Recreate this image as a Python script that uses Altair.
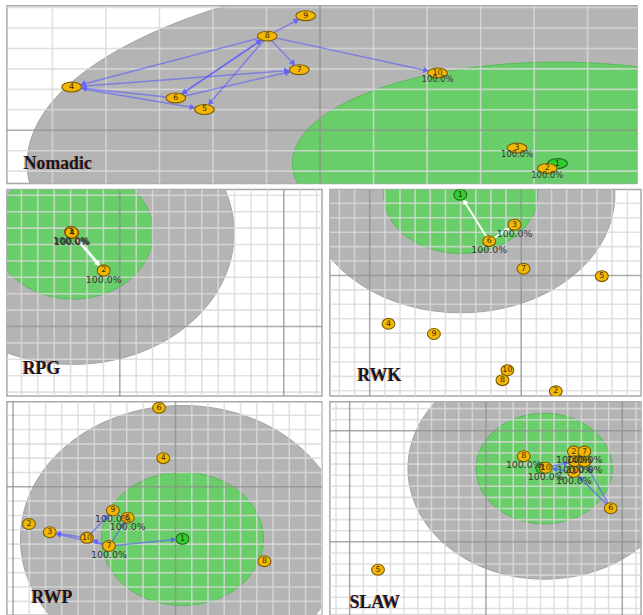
import math

import altair as alt
import numpy as np
import pandas as pd

# ---------------------------------------------------------------------------
# Node positions (page pixels) of the five mobility models
# ---------------------------------------------------------------------------
NOMADIC_ID = [1, 2, 3, 4, 5, 6, 7, 8, 9, 10]
NOMADIC_X = [562.5, 552.0, 521.5, 70.5, 205.0, 176.0, 301.0, 268.6, 307.5, 441.0]
NOMADIC_Y = [165.7, 170.7, 150.0, 88.3, 111.0, 99.3, 70.7, 36.7, 16.0, 74.0]
NOMADIC_DONE = [10, 3, 2]
NOMADIC_FROM = [8, 8, 8, 8, 8, 8, 6, 4, 6, 6, 4]
NOMADIC_TO = [9, 4, 6, 5, 7, 10, 8, 7, 7, 4, 5]

RPG_ID = [3, 4, 1, 2]
RPG_X = [69.8, 71.2, 70.5, 103.0]
RPG_Y = [231.0, 232.0, 231.5, 270.0]
RPG_DONE = [3, 4, 1, 2]
RPG_FROM = [1]
RPG_TO = [2]

RWK_ID = [1, 2, 3, 4, 5, 6, 7, 9, 10, 8]
RWK_X = [460.0, 556.7, 515.0, 387.3, 603.3, 489.3, 524.0, 433.3, 507.7, 502.7]
RWK_Y = [193.3, 392.3, 223.7, 324.0, 275.7, 240.3, 268.3, 334.3, 371.0, 381.0]
RWK_DONE = [3, 6]
RWK_FROM = [6, 6]
RWK_TO = [1, 3]

RWP_ID = [6, 4, 2, 3, 10, 7, 9, 5, 1, 8]
RWP_X = [159.0, 163.3, 27.3, 48.3, 86.0, 108.3, 112.3, 127.3, 182.7, 265.7]
RWP_Y = [405.0, 456.0, 522.7, 531.0, 536.7, 545.0, 509.0, 516.3, 537.7, 560.3]
RWP_DONE = [9, 5, 7]
RWP_FROM = [10, 7, 7, 10, 7, 7]
RWP_TO = [3, 3, 1, 9, 5, 10]

SLAW_ID = [1, 10, 8, 2, 7, 4, 9, 3, 6, 5]
SLAW_X = [543.0, 546.5, 524.3, 575.0, 585.7, 576.0, 585.7, 575.0, 612.3, 376.7]
SLAW_Y = [466.0, 465.7, 454.0, 449.3, 449.3, 459.0, 459.3, 470.0, 506.7, 569.0]
SLAW_DONE = [8, 10, 2, 7, 4, 9, 3]
SLAW_FROM = [6, 6, 10, 3]
SLAW_TO = [3, 9, 4, 10]

# Coverage zones around the source node: inner (green) and outer (grey)
# semi-axes in pixels, x then y.
INNER_RX = {"Nomadic": 268.5, "RPG": 81.0, "RWK": 78.0, "RWP": 82.0, "SLAW": 69.0}
INNER_RY = {"Nomadic": 102.7, "RPG": 67.0, "RWK": 59.5, "RWP": 67.5, "SLAW": 56.0}
OUTER_RX = {"Nomadic": 537.0, "RPG": 163.0, "RWK": 156.0, "RWP": 164.0, "SLAW": 138.0}
OUTER_RY = {"Nomadic": 205.0, "RPG": 133.0, "RWK": 119.5, "RWP": 135.0, "SLAW": 112.0}
ZONE_CX = {"Nomadic": 562.5, "RPG": 72.0, "RWK": 460.5, "RWP": 182.7, "SLAW": 545.0}
ZONE_CY = {"Nomadic": 165.7, "RPG": 232.0, "RWK": 193.3, "RWP": 537.7, "SLAW": 466.5}

# ---------------------------------------------------------------------------
# Layout: panel frames (left, right, top, bottom) and background grids
# ---------------------------------------------------------------------------
FRAMES = {
    "Nomadic": (5, 643, 6, 186),
    "RPG": (5, 324, 188, 397),
    "RWK": (328, 643, 188, 397),
    "RWP": (5, 324, 399, 615),
    "SLAW": (328, 643, 399, 615),
}
# (major line x, cell width, major line y, cell height)
GRIDS = {
    "Nomadic": (322.0, 54.2, 132.0, 20.7),
    "RPG": (119.3, 16.6, 326.7, 16.6),
    "RWK": (368.3, 15.34, 275.0, 14.6),
    "RWP": (175.7, 16.45, 485.0, 14.5),
    "SLAW": (486.0, 13.8, 428.3, 11.24),
}
TITLE_POS = {
    "Nomadic": (17, 165),
    "RPG": (16, 187),
    "RWK": (28, 194),
    "RWP": (25, 204),
    "SLAW": (20, 209),
}

GREY = "#b4b4b4"
GREEN = "#69cd69"
NODE_FILL = "#f2b705"
NODE_EDGE = "#7a5c08"
SRC_FILL = "#2fcf2f"
SRC_EDGE = "#1d6b1d"
BLUE = "#5a5aff"


def ellipse_path(ratio):
    """Unit ellipse (x in [-1, 1], y in [-ratio, ratio]) built from Beziers."""
    k = 0.5523
    r = ratio
    return (
        f"M-1,0C-1,{-k * r:.4f},{-k:.4f},{-r:.4f},0,{-r:.4f}"
        f"C{k:.4f},{-r:.4f},1,{-k * r:.4f},1,0"
        f"C1,{k * r:.4f},{k:.4f},{r:.4f},0,{r:.4f}"
        f"C{-k:.4f},{r:.4f},-1,{k * r:.4f},-1,0Z"
    )


def grid_lines(lo, hi, major, cell):
    k = np.arange(math.floor((lo - major) / cell) - 1, math.ceil((hi - major) / cell) + 2)
    pos = major + k * cell
    keep = (pos > lo) & (pos < hi)
    return pd.DataFrame({"p": pos[keep], "major": (k[keep] % 10 == 0)})


def make_panel(name, ids, xs, ys, done, src, dst, source_id, node_w, node_ratio,
               edge_color, edge_opacity, edge_width, head_size, label_dy,
               label_size, id_size):
    x0, x1, y0, y1 = FRAMES[name]
    width, height = x1 - x0, y1 - y0
    sx = alt.Scale(domain=[x0, x1], nice=False, zero=False)
    sy = alt.Scale(domain=[y0, y1], nice=False, zero=False, reverse=True)

    def X(f):
        return alt.X(f, type="quantitative", scale=sx, axis=None)

    def Y(f):
        return alt.Y(f, type="quantitative", scale=sy, axis=None)

    nodes = pd.DataFrame({"id": ids, "x": xs, "y": ys})
    pos = {i: (x, y) for i, x, y in zip(ids, xs, ys)}

    # coverage zones
    zone = pd.DataFrame({"cx": [ZONE_CX[name]], "cy": [ZONE_CY[name]]})
    outer = alt.Chart(zone).mark_point(
        shape=ellipse_path(OUTER_RY[name] / OUTER_RX[name]),
        size=(2 * OUTER_RX[name]) ** 2, filled=True, color=GREY, opacity=1,
        stroke="#a2a2a2", strokeWidth=1, clip=True,
    ).encode(x=X("cx"), y=Y("cy"))
    inner = alt.Chart(zone).mark_point(
        shape=ellipse_path(INNER_RY[name] / INNER_RX[name]),
        size=(2 * INNER_RX[name]) ** 2, filled=True, color=GREEN, opacity=1,
        stroke="#5cb85c", strokeWidth=1, clip=True,
    ).encode(x=X("cx"), y=Y("cy"))

    # background grid, drawn over the zones
    mx, cw, my, ch = GRIDS[name]
    gv = grid_lines(x0, x1, mx, cw)
    gh = grid_lines(y0, y1, my, ch)
    grid = [
        alt.Chart(gv[~gv.major]).mark_rule(color="#dadada", strokeWidth=1.6, opacity=0.8)
        .encode(x=X("p")),
        alt.Chart(gh[~gh.major]).mark_rule(color="#dadada", strokeWidth=1.6, opacity=0.8)
        .encode(y=Y("p")),
        alt.Chart(gv[gv.major]).mark_rule(color="#8f8f8f", strokeWidth=1.6, opacity=0.75)
        .encode(x=X("p")),
        alt.Chart(gh[gh.major]).mark_rule(color="#8f8f8f", strokeWidth=1.6, opacity=0.75)
        .encode(y=Y("p")),
    ]

    # message transfers: line + arrow head stopping at the target's rim
    a = node_w / 2.0
    b = a * node_ratio
    rows = []
    for s, t in zip(src, dst):
        (ax, ay), (bx, by) = pos[s], pos[t]
        dx, dy = bx - ax, by - ay
        ln = math.hypot(dx, dy)
        ux, uy = dx / ln, dy / ln
        rim = 1.0 / math.sqrt((ux / a) ** 2 + (uy / b) ** 2)
        hx, hy = bx - ux * (rim + 2.5), by - uy * (rim + 2.5)
        ang = math.degrees(math.atan2(ux, -uy)) % 360
        rows.append({"sx": ax, "sy": ay, "hx": hx, "hy": hy, "ang": ang})
    edges = pd.DataFrame(rows)
    edge_lines = alt.Chart(edges).mark_rule(
        color=edge_color, strokeWidth=edge_width, opacity=edge_opacity, clip=True
    ).encode(x=X("sx"), y=Y("sy"), x2=alt.X2("hx"), y2=alt.Y2("hy"))
    edge_heads = alt.Chart(edges).mark_point(
        shape="triangle-up", filled=True, size=head_size, color=edge_color,
        opacity=min(1.0, edge_opacity + 0.2), clip=True,
    ).encode(x=X("hx"), y=Y("hy"), angle=alt.Angle("ang:Q", scale=None))

    # nodes
    nodes["src"] = nodes["id"] == source_id
    node_marks = alt.Chart(nodes).mark_point(
        shape=ellipse_path(node_ratio), size=node_w ** 2, filled=True,
        strokeWidth=1.1, opacity=1, clip=True,
    ).encode(
        x=X("x"), y=Y("y"),
        fill=alt.condition("datum.src", alt.value(SRC_FILL), alt.value(NODE_FILL)),
        stroke=alt.condition("datum.src", alt.value(SRC_EDGE), alt.value(NODE_EDGE)),
    )
    node_ids = alt.Chart(nodes).mark_text(
        font="DejaVu Sans", fontSize=id_size, color="#3a2a00", baseline="middle",
        align="center", clip=True,
    ).encode(x=X("x"), y=Y("y"), text=alt.Text("id:N"))

    # delivery ratio labels under the nodes that received the message
    lab = nodes[nodes["id"].isin(done)].copy()
    lab["ly"] = lab["y"] + label_dy
    lab["txt"] = "100.0%"
    labels = alt.Chart(lab).mark_text(
        font="DejaVu Sans", fontSize=label_size, color="#353535", baseline="middle",
        align="center", clip=True,
    ).encode(x=X("x"), y=Y("ly"), text="txt:N")

    # model name
    tx, ty = TITLE_POS[name]
    tdf = pd.DataFrame({"t": [name]})
    shade = alt.Chart(tdf).mark_text(
        font="Liberation Serif", fontWeight="bold", fontSize=18, color="#c8701c",
        opacity=0.75, align="left", baseline="alphabetic",
    ).encode(x=alt.value(tx - 1), y=alt.value(ty), text="t:N")
    title = alt.Chart(tdf).mark_text(
        font="Liberation Serif", fontWeight="bold", fontSize=18, color="#14142c",
        align="left", baseline="alphabetic",
    ).encode(x=alt.value(tx), y=alt.value(ty), text="t:N")

    return alt.layer(
        outer, inner, *grid, edge_lines, edge_heads, node_marks, node_ids,
        labels, shade, title,
    ).properties(width=width, height=height)


nomadic = make_panel(
    "Nomadic", NOMADIC_ID, NOMADIC_X, NOMADIC_Y, NOMADIC_DONE, NOMADIC_FROM, NOMADIC_TO,
    1, 20, 0.5, BLUE, 0.6, 1.5, 45, 6.5, 8.5, 8)
rpg = make_panel(
    "RPG", RPG_ID, RPG_X, RPG_Y, RPG_DONE, RPG_FROM, RPG_TO,
    None, 13, 0.88, "#ffffff", 0.95, 3, 40, 9.5, 9.5, 8)
rwk = make_panel(
    "RWK", RWK_ID, RWK_X, RWK_Y, RWK_DONE, RWK_FROM, RWK_TO,
    1, 13, 0.85, "#ffffff", 0.95, 2, 35, 9, 9.5, 8)
rwp = make_panel(
    "RWP", RWP_ID, RWP_X, RWP_Y, RWP_DONE, RWP_FROM, RWP_TO,
    1, 13, 0.85, BLUE, 0.65, 1.5, 35, 9, 9.5, 8)
slaw = make_panel(
    "SLAW", SLAW_ID, SLAW_X, SLAW_Y, SLAW_DONE, SLAW_FROM, SLAW_TO,
    1, 13, 0.85, BLUE, 0.65, 1.5, 35, 9, 9.5, 8)

chart = alt.vconcat(
    nomadic,
    alt.hconcat(rpg, rwk, spacing=4),
    alt.hconcat(rwp, slaw, spacing=4),
    spacing=2,
).properties(
    padding={"left": 5, "top": 0, "right": 0, "bottom": 0},
    background="white",
).configure_view(stroke="#a6a6b2", strokeWidth=1.5)

chart.save("out.html", embed_options={"renderer": "svg", "actions": False})
